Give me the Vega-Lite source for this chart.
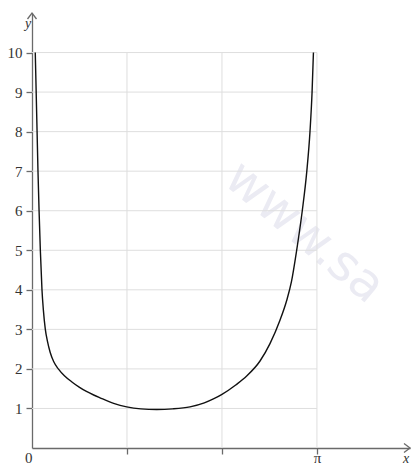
{
  "$schema": "https://vega.github.io/schema/vega-lite/v6.json",
  "width": 378,
  "height": 435,
  "autosize": "none",
  "padding": {"left": 32, "top": 13, "right": 3, "bottom": 17},
  "background": "white",
  "config": {
    "view": {"stroke": null},
    "axis": {"grid": false, "labelFont": "Liberation Serif", "labelFontSize": 15, "labelColor": "#333333"}
  },
  "datasets": {
    "curve": [
      {"x": 0.036, "y": 10}, {"x": 0.046, "y": 9}, {"x": 0.056, "y": 8}, {"x": 0.066, "y": 7},
      {"x": 0.078, "y": 6}, {"x": 0.092, "y": 5}, {"x": 0.110, "y": 4}, {"x": 0.125, "y": 3.5},
      {"x": 0.147, "y": 3.0}, {"x": 0.17, "y": 2.7}, {"x": 0.20, "y": 2.42}, {"x": 0.24, "y": 2.18},
      {"x": 0.29, "y": 2.0}, {"x": 0.36, "y": 1.82}, {"x": 0.44, "y": 1.67},
      {"x": 0.52, "y": 1.54}, {"x": 0.60, "y": 1.43}, {"x": 0.68, "y": 1.34}, {"x": 0.75, "y": 1.27},
      {"x": 0.90, "y": 1.13}, {"x": 1.044, "y": 1.04},
      {"x": 1.20, "y": 0.99}, {"x": 1.375, "y": 0.975}, {"x": 1.55, "y": 0.99}, {"x": 1.742, "y": 1.04},
      {"x": 1.90, "y": 1.14}, {"x": 2.0, "y": 1.24}, {"x": 2.09, "y": 1.35}, {"x": 2.25, "y": 1.60},
      {"x": 2.367, "y": 1.82}, {"x": 2.514, "y": 2.20}, {"x": 2.624, "y": 2.64}, {"x": 2.734, "y": 3.23},
      {"x": 2.808, "y": 3.73}, {"x": 2.86, "y": 4.2}, {"x": 2.918, "y": 5.0}, {"x": 2.98, "y": 6.0},
      {"x": 3.03, "y": 7.0}, {"x": 3.065, "y": 8.0}, {"x": 3.088, "y": 9.0}, {"x": 3.103, "y": 10.0}
    ],
    "hgrid": [
      {"y": 1, "x": 0, "x2": 3.14159}, {"y": 2, "x": 0, "x2": 3.14159}, {"y": 3, "x": 0, "x2": 3.14159},
      {"y": 4, "x": 0, "x2": 3.14159}, {"y": 5, "x": 0, "x2": 3.14159}, {"y": 6, "x": 0, "x2": 3.14159},
      {"y": 7, "x": 0, "x2": 3.14159}, {"y": 8, "x": 0, "x2": 3.14159}, {"y": 9, "x": 0, "x2": 3.14159},
      {"y": 10, "x": 0, "x2": 3.14159}
    ],
    "vgrid": [
      {"x": 1.0472, "y": 0, "y2": 10}, {"x": 2.0944, "y": 0, "y2": 10}, {"x": 3.14159, "y": 0, "y2": 10}
    ],
    "labels": [
      {"x": 0, "y": 11, "t": "y"},
      {"x": 4.1677, "y": 0, "t": "x"}
    ],
    "wm": [
      {"x": 2.2, "y": 7.0, "t": "www.sa"}
    ],
    "arrowx": [{"x": 4.1677, "y": 0}],
    "arrowy": [{"x": 0, "y": 11}]
  },
  "encoding": {
    "x": {
      "field": "x", "type": "quantitative",
      "scale": {"domain": [0, 4.1677], "nice": false, "zero": false},
      "axis": {
        "title": null,
        "values": [0, 1.0472, 2.0944, 3.14159],
        "labelExpr": "datum.value == 0 ? '0' : (datum.value > 3 ? 'π' : '')",
        "labelAlign": {"condition": {"test": "datum.value == 0", "value": "right"}, "value": "center"},
        "tickOpacity": {"condition": {"test": "datum.value == 0", "value": 0}, "value": 1},
        "labelBaseline": "alphabetic",
        "labelFlush": false,
        "labelOverlap": false,
        "grid": false,
        "domainColor": "#6a6a6a",
        "domainWidth": 1.3,
        "tickColor": "#6a6a6a",
        "tickWidth": 1.3,
        "tickSize": 6,
        "labelPadding": 8,
        "labelFont": "Liberation Serif",
        "labelFontSize": 15,
        "labelColor": "#333333"
      }
    },
    "y": {
      "field": "y", "type": "quantitative",
      "scale": {"domain": [0, 11], "nice": false},
      "axis": {
        "title": null,
        "values": [1, 2, 3, 4, 5, 6, 7, 8, 9, 10],
        "grid": false,
        "domainColor": "#6a6a6a",
        "domainWidth": 1.3,
        "tickColor": "#6a6a6a",
        "tickWidth": 1.3,
        "tickSize": 6,
        "labelPadding": 4,
        "labelFont": "Liberation Serif",
        "labelFontSize": 15,
        "labelColor": "#333333"
      }
    }
  },
  "layer": [
    {
      "data": {"name": "wm"},
      "mark": {"type": "text", "align": "left", "baseline": "middle", "angle": 40, "fontSize": 50, "font": "DejaVu Sans", "color": "#ebebf3"},
      "encoding": {"text": {"field": "t"}}
    },
    {
      "data": {"name": "hgrid"},
      "mark": {"type": "rule", "color": "#dedede", "strokeWidth": 1},
      "encoding": {"x2": {"field": "x2"}}
    },
    {
      "data": {"name": "vgrid"},
      "mark": {"type": "rule", "color": "#dedede", "strokeWidth": 1},
      "encoding": {"y2": {"field": "y2"}}
    },
    {
      "data": {"name": "curve"},
      "mark": {"type": "line", "color": "#111111", "strokeWidth": 1.4, "interpolate": "monotone", "clip": false},
      "encoding": {}
    },
    {
      "data": {"name": "arrowx"},
      "mark": {"type": "point", "shape": "M-2,-1.5L0,0L-2,1.5", "size": 36, "filled": false, "stroke": "#6a6a6a", "strokeWidth": 1.3, "opacity": 1, "clip": false},
      "encoding": {}
    },
    {
      "data": {"name": "arrowy"},
      "mark": {"type": "point", "shape": "M-1.5,2L0,0L1.5,2", "size": 36, "filled": false, "stroke": "#6a6a6a", "strokeWidth": 1.3, "opacity": 1, "clip": false},
      "encoding": {}
    },
    {
      "data": {"name": "labels"},
      "mark": {"type": "text", "font": "Liberation Serif", "fontStyle": "italic", "fontSize": 14, "color": "#333333", "baseline": "middle", "clip": false},
      "encoding": {
        "text": {"field": "t"},
        "xOffset": {"condition": {"test": "datum.t == 'y'", "value": -11}, "value": -4},
        "yOffset": {"condition": {"test": "datum.t == 'y'", "value": 3}, "value": 11}
      }
    }
  ]
}
